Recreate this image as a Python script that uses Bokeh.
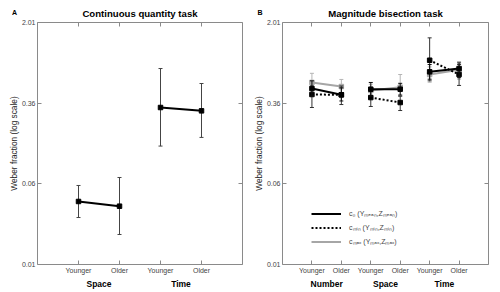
from bokeh.plotting import figure
from bokeh.models import (FactorRange, FixedTicker, CategoricalAxis, LogAxis, Label,
                          Legend, LegendItem, ColumnDataSource, Range1d)
from bokeh.layouts import row
from bokeh.embed import file_html
from bokeh.resources import INLINE

FONT = "Liberation Sans"
FRAME_GREY = "#8a8a8a"
TICK_TEXT = "#444444"

# Weber fraction axis (log scale), ticks evenly spaced in log space
y_ticks = [0.01, 0.0586, 0.3431, 2.01]
y_tick_labels = ["0.01", "0.06", "0.36", "2.01"]

ages = ["Younger", "Older"]

# Panel A: continuous quantity task
a_groups = ["Space", "Time"]
a_space_mean = [0.0398, 0.0359]
a_space_lo = [0.0280, 0.0193]
a_space_hi = [0.0565, 0.0673]
a_time_mean = [0.312, 0.290]
a_time_lo = [0.134, 0.162]
a_time_hi = [0.733, 0.528]

# Panel B: magnitude bisection task (Number Y/O, Space Y/O, Time Y/O)
b_groups = ["Number", "Space", "Time"]
c0_mean = [0.473, 0.412, 0.466, 0.466, 0.682, 0.733]
c0_lo = [0.400, 0.360, 0.400, 0.410, 0.580, 0.600]
c0_hi = [0.560, 0.480, 0.540, 0.530, 0.800, 0.830]
cmin_mean = [0.415, 0.412, 0.388, 0.348, 0.879, 0.643]
cmin_lo = [0.312, 0.333, 0.319, 0.292, 0.560, 0.506]
cmin_hi = [0.500, 0.500, 0.460, 0.400, 1.436, 0.800]
cmax_mean = [0.540, 0.494, 0.453, 0.487, 0.643, 0.713]
cmax_lo = [0.460, 0.430, 0.400, 0.400, 0.543, 0.580]
cmax_hi = [0.660, 0.577, 0.520, 0.643, 0.760, 0.855]

legend_labels = ["c\u2080 (Y\u2098\u2091\u2090\u2099,Z\u2098\u2091\u2090\u2099)",
                 "c\u2098\u1d62\u2099 (Y\u2098\u1d62\u2099,Z\u2098\u1d62\u2099)",
                 "c\u2098\u2090\u2093 (Y\u2098\u2090\u2093,Z\u2098\u2090\u2093)"]


def make_panel(title, letter, letter_x, groups, left, right):
    factors = [(g, a) for g in groups for a in ages]
    xr = FactorRange(*factors, group_padding=0, range_padding=0.5,
                     range_padding_units="absolute")
    p = figure(width=250, height=292, x_range=xr, y_range=Range1d(0.01, 2.01),
               y_axis_type="log", output_backend="svg", toolbar_location=None,
               min_border_left=left, min_border_right=right,
               min_border_top=22, min_border_bottom=28)
    p.background_fill_color = "white"
    p.border_fill_color = "white"
    p.grid.visible = False
    p.outline_line_color = FRAME_GREY
    p.outline_line_width = 1

    p.title.text = title
    p.title.align = "center"
    p.title.text_font = FONT
    p.title.text_font_size = "9.6px"
    p.title.text_font_style = "bold"
    p.title.text_color = "black"
    p.title.standoff = 7
    p.title.offset = 0

    # left axis
    ya = p.yaxis[0]
    ya.ticker = FixedTicker(ticks=y_ticks)
    ya.major_label_overrides = dict(zip(y_ticks, y_tick_labels))
    ya.axis_line_color = None
    ya.major_tick_in = 4
    ya.major_tick_out = 0
    ya.major_tick_line_color = FRAME_GREY
    ya.minor_tick_line_color = None
    ya.major_label_text_font = FONT
    ya.major_label_text_font_size = "7px"
    ya.major_label_text_color = TICK_TEXT
    ya.major_label_standoff = 2
    ya.axis_label = "Weber fraction (log scale)"
    ya.axis_label_text_font = FONT
    ya.axis_label_text_font_size = "8.3px"
    ya.axis_label_text_font_style = "normal"
    ya.axis_label_text_color = "#222222"
    ya.axis_label_standoff = 0

    # bottom axis
    xa = p.xaxis[0]
    xa.axis_line_color = None
    xa.major_tick_in = 4
    xa.major_tick_out = 0
    xa.major_tick_line_color = FRAME_GREY
    xa.minor_tick_line_color = None
    xa.separator_line_color = None
    xa.major_label_text_font = FONT
    xa.major_label_text_font_size = "7px"
    xa.major_label_text_color = TICK_TEXT
    xa.major_label_standoff = 2
    xa.group_text_font = FONT
    xa.group_text_font_size = "8.5px"
    xa.group_text_font_style = "bold"
    xa.group_text_color = "black"

    # mirrored tick marks on the top and right edges (labels not painted)
    top = CategoricalAxis(axis_line_color=None, major_tick_in=4, major_tick_out=0,
                          major_tick_line_color=FRAME_GREY, minor_tick_line_color=None,
                          separator_line_color=None,
                          major_label_text_font_size="1px", major_label_text_color=None,
                          group_text_font_size="1px", group_text_color=None,
                          major_label_standoff=0)
    p.add_layout(top, "above")
    rt = LogAxis(ticker=FixedTicker(ticks=y_ticks), axis_line_color=None,
                 major_tick_in=4, major_tick_out=0, major_tick_line_color=FRAME_GREY,
                 minor_tick_line_color=None, major_label_text_font_size="1px",
                 major_label_text_color=None, major_label_standoff=0)
    p.add_layout(rt, "right")

    # panel letter, placed in the right-hand side panel so it is not clipped
    p.add_layout(Label(x=letter_x, y=252, x_units="screen",
                       y_units="screen", text=letter, text_font=FONT,
                       text_font_size="7px", text_font_style="bold",
                       text_align="center", text_baseline="middle",
                       text_color="black"), "right")
    return p


def draw_series(p, groups, mean, lo, hi, color, err_color, dash, size=4.5):
    xs = [(g, a) for g in groups for a in ages]
    src = ColumnDataSource(dict(x=xs, lo=lo, hi=hi, m=mean))
    p.segment(x0="x", y0="lo", x1="x", y1="hi", source=src,
              line_color=err_color, line_width=1)
    p.scatter(x="x", y="lo", source=src, marker="dash", size=4,
              line_color=err_color, line_width=1)
    p.scatter(x="x", y="hi", source=src, marker="dash", size=4,
              line_color=err_color, line_width=1)
    first = None
    for i, g in enumerate(groups):
        r = p.line(x=[(g, a) for a in ages], y=mean[2 * i:2 * i + 2],
                   line_color=color, line_width=2, line_dash=dash)
        if first is None:
            first = r
    p.scatter(x="x", y="m", source=src, marker="square", size=size,
              fill_color=color, line_color=color)
    return first


# ---- Panel A ----
pa = make_panel("Continuous quantity task", "A", -228.0, a_groups, 37, 8)
draw_series(pa, a_groups, a_space_mean + a_time_mean, a_space_lo + a_time_lo,
            a_space_hi + a_time_hi, "black", "#444444", "solid")

# ---- Panel B ----
pb = make_panel("Magnitude bisection task", "B", -228.5, b_groups, 31, 12)
r_max = draw_series(pb, b_groups, cmax_mean, cmax_lo, cmax_hi, "#a6a6a6", "#b5b5b5", "solid")
r_min = draw_series(pb, b_groups, cmin_mean, cmin_lo, cmin_hi, "black", "#333333", "2 2")
r_c0 = draw_series(pb, b_groups, c0_mean, c0_lo, c0_hi, "black", "#111111", "solid")

legend = Legend(items=[LegendItem(label=legend_labels[0], renderers=[r_c0]),
                       LegendItem(label=legend_labels[1], renderers=[r_min]),
                       LegendItem(label=legend_labels[2], renderers=[r_max])],
                location=(29, 17), orientation="vertical",
                background_fill_alpha=0, border_line_color=None,
                padding=0, margin=0, spacing=3,
                glyph_width=30, glyph_height=11, label_height=11,
                label_standoff=8, label_text_font=FONT,
                label_text_font_size="7px", label_text_color=TICK_TEXT)
pb.add_layout(legend)

layout = row(pa, pb)
open("out.html", "w").write(file_html(layout, INLINE))
